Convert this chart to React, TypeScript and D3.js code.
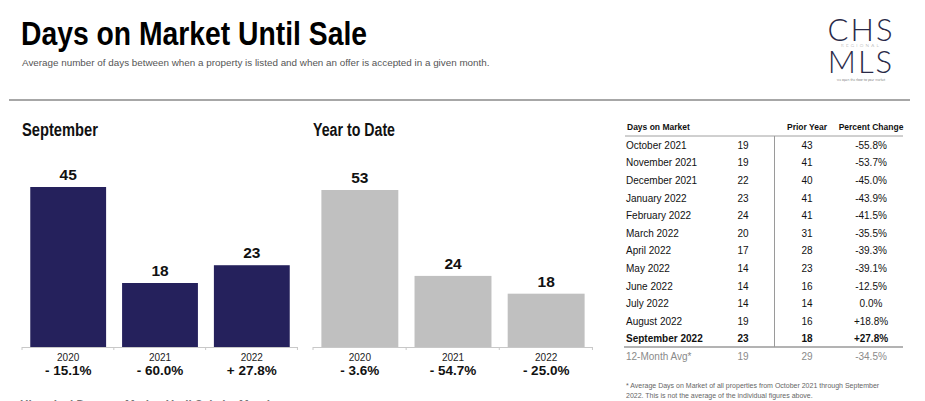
import React from "react";
import * as d3 from "d3";

const years = ["2020", "2021", "2022"];
const septValues = [45, 18, 23];
const septChanges = ["- 15.1%", "- 60.0%", "+ 27.8%"];
const ytdValues = [53, 24, 18];
const ytdChanges = ["- 3.6%", "- 54.7%", "- 25.0%"];

const tableMonths = [
  "October 2021", "November 2021", "December 2021", "January 2022", "February 2022",
  "March 2022", "April 2022", "May 2022", "June 2022", "July 2022", "August 2022", "September 2022",
];
const tableCurrent = [19, 19, 22, 23, 24, 20, 17, 14, 14, 14, 19, 23];
const tablePrior = [43, 41, 40, 41, 41, 31, 28, 23, 16, 14, 16, 18];
const tableChange = ["-55.8%", "-53.7%", "-45.0%", "-43.9%", "-41.5%", "-35.5%", "-39.3%", "-39.1%", "-12.5%", "0.0%", "+18.8%", "+27.8%"];
const avgRow = { label: "12-Month Avg*", current: 19, prior: 29, change: "-34.5%" };

const SANS = "'Liberation Sans', Arial, Helvetica, sans-serif";

type PanelProps = {
  title: string;
  titleWidth: number;
  values: number[];
  changes: string[];
  x0: number;
  x1: number;
  topY: number;
  color: string;
};

function Panel({ title, titleWidth, values, changes, x0, x1, topY, color }: PanelProps) {
  const baseY = 347;
  const x = d3.scaleBand<string>().domain(years).range([x0, x1]).paddingInner(0.174).paddingOuter(0.09);
  const maxV = d3.max(values) as number;
  const y = d3.scaleLinear().domain([0, maxV]).range([baseY, topY]);
  const step = x.step();
  const tickXs = d3.range(years.length + 1).map((i) => x0 + i * step);
  return (
    <g>
      <text x={x0} y={136} fontFamily={SANS} fontWeight="bold" fontSize={17.5} fill="#111" textLength={titleWidth} lengthAdjust="spacingAndGlyphs">
        {title}
      </text>
      {values.map((v, i) => {
        const cx = (x(years[i]) as number) + x.bandwidth() / 2;
        return (
          <g key={i}>
            <rect x={x(years[i])} y={y(v)} width={x.bandwidth()} height={baseY - y(v)} fill={color} />
            <text x={cx} y={y(v) - 7} textAnchor="middle" fontFamily={SANS} fontWeight="bold" fontSize={15.5} fill="#111">
              {v}
            </text>
            <text x={cx} y={361} textAnchor="middle" fontFamily={SANS} fontSize={10} fill="#222">
              {years[i]}
            </text>
            <text x={cx} y={375} textAnchor="middle" fontFamily={SANS} fontWeight="bold" fontSize={13.5} fill="#111">
              {changes[i]}
            </text>
          </g>
        );
      })}
      <line x1={x0} x2={x1} y1={baseY + 0.5} y2={baseY + 0.5} stroke="#c8c8c8" strokeWidth={1} />
      {tickXs.map((tx, i) => (
        <line key={i} x1={tx} x2={tx} y1={baseY} y2={baseY + 3} stroke="#c8c8c8" strokeWidth={1} />
      ))}
    </g>
  );
}

export default function App() {
  const rowY = (i: number) => 145 + i * 17.6;
  const colName = 626;
  const colCur = 743;
  const colPrior = 807;
  const colPct = 871;
  return (
    <svg
      width={925}
      height={401}
      viewBox="0 0 925 401"
      style={{ position: "absolute", left: 0, top: 0, background: "#fff" }}
    >
      <rect x={0} y={0} width={925} height={401} fill="#fff" />
      {/* Title */}
      <text x={21} y={45} fontFamily={SANS} fontWeight="bold" fontSize={34} fill="#000" textLength={346} lengthAdjust="spacingAndGlyphs">
        Days on Market Until Sale
      </text>
      <text x={22} y={66} fontFamily={SANS} fontSize={9.85} fill="#555">
        Average number of days between when a property is listed and when an offer is accepted in a given month.
      </text>
      <line x1={9} x2={910} y1={100} y2={100} stroke="#8a8a8a" strokeWidth={1.5} />

      {/* Logo */}
      <g fill="#2a2a48" fontFamily="Lato, 'Open Sans', sans-serif" fontWeight={300}>
        <text x={861} y={41} textAnchor="middle" fontSize={31} letterSpacing={2}>CHS</text>
        <text x={861} y={47} textAnchor="middle" fontSize={4.6} letterSpacing={2.2} fill="#999">REGIONAL</text>
        <text x={861} y={73} textAnchor="middle" fontSize={31} letterSpacing={2}>MLS</text>
        <text x={861} y={80.5} textAnchor="middle" fontSize={3.4} fill="#444">we open the door to your market</text>
      </g>

      <Panel title="September" titleWidth={76} values={septValues} changes={septChanges} x0={22} x1={298} topY={187} color="#25215c" />
      <Panel title="Year to Date" titleWidth={82} values={ytdValues} changes={ytdChanges} x0={313} x1={593} topY={190} color="#c0c0c0" />

      {/* Table */}
      <g fontFamily={SANS}>
        <text x={627} y={130} fontSize={8.5} fontWeight="bold" fill="#111">Days on Market</text>
        <text x={colPrior} y={130} fontSize={8.5} fontWeight="bold" fill="#111" textAnchor="middle">Prior Year</text>
        <text x={colPct} y={130} fontSize={8.5} fontWeight="bold" fill="#111" textAnchor="middle">Percent Change</text>
        <line x1={625} x2={903} y1={136} y2={136} stroke="#a0a0a0" strokeWidth={1} />
        <line x1={774.5} x2={774.5} y1={136} y2={347} stroke="#9a9a9a" strokeWidth={1} />
        {tableMonths.map((m, i) => {
          const last = i === tableMonths.length - 1;
          const fw = last ? "bold" : "normal";
          const yy = rowY(i) + 3.8;
          return (
            <g key={m} fontSize={10} fill="#111" fontWeight={fw}>
              <text x={colName} y={yy}>{m}</text>
              <text x={colCur} y={yy} textAnchor="middle">{tableCurrent[i]}</text>
              <text x={colPrior} y={yy} textAnchor="middle">{tablePrior[i]}</text>
              <text x={colPct} y={yy} textAnchor="middle">{tableChange[i]}</text>
            </g>
          );
        })}
        <line x1={624} x2={903} y1={347} y2={347} stroke="#9a9a9a" strokeWidth={1.5} />
        <g fontSize={10} fill="#8a8a8a">
          <text x={colName} y={rowY(12) + 3.8}>{avgRow.label}</text>
          <text x={colCur} y={rowY(12) + 3.8} textAnchor="middle">{avgRow.current}</text>
          <text x={colPrior} y={rowY(12) + 3.8} textAnchor="middle">{avgRow.prior}</text>
          <text x={colPct} y={rowY(12) + 3.8} textAnchor="middle">{avgRow.change}</text>
        </g>
        <g fontSize={7} fill="#666">
          <text x={626} y={388}>* Average Days on Market of all properties from October 2021 through September</text>
          <text x={626} y={397.5}>2022. This is not the average of the individual figures above.</text>
        </g>
      </g>

      {/* Next section heading, cut off by the bottom edge */}
      <text x={20} y={412} fontFamily={SANS} fontWeight="bold" fontSize={17} fill="#777" textLength={254} lengthAdjust="spacingAndGlyphs">
        Historical Days on Market Until Sale by Month
      </text>
    </svg>
  );
}
